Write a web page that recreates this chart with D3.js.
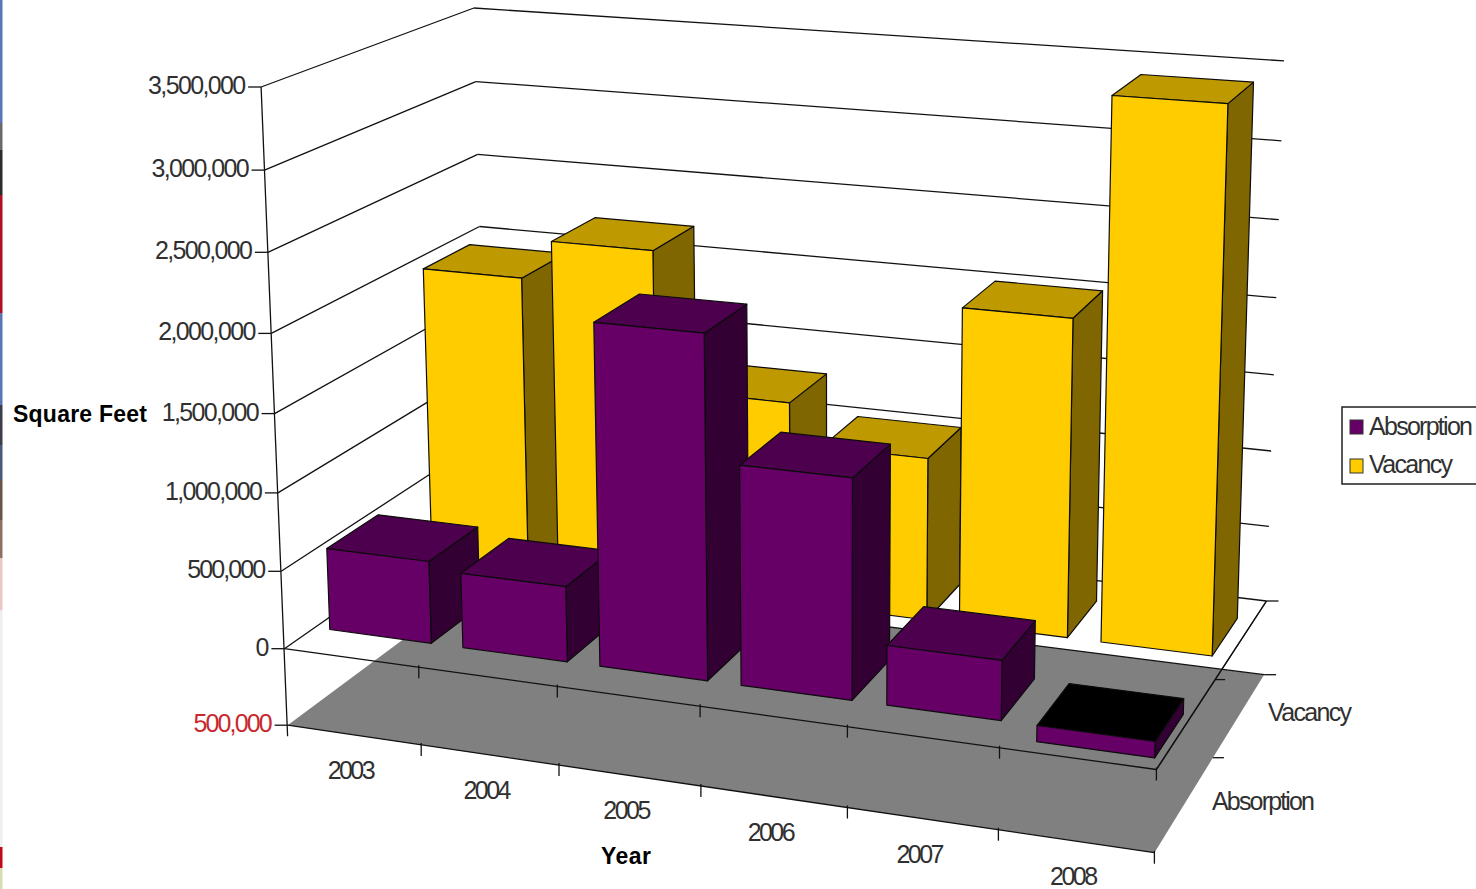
<!DOCTYPE html>
<html>
<head>
<meta charset="utf-8">
<script src="https://cdn.jsdelivr.net/npm/d3@7"></script>
<style>
  html, body { margin: 0; padding: 0; background: #fff; overflow: hidden; }
  svg { display: block; }
  text { font-family: "Liberation Sans", Arial, sans-serif; fill: #303030; }
</style>
</head>
<body>
<svg id="chart" width="1476" height="889"></svg>
<script>
// Chart data: square feet per year
const years = ["2003", "2004", "2005", "2006", "2007", "2008"];
const seriesNames = ["Absorption", "Vacancy"];
const absorption = [530000, 480000, 2150000, 1370000, 370000, -100000];
const vacancy = [1970000, 2230000, 1325000, 1060000, 2045000, 3430000];
const valueTicks = [-500000, 0, 500000, 1000000, 1500000, 2000000, 2500000, 3000000, 3500000];

// Fill colours for each series: front, top, side
const faceColors = {
  Absorption: { front: "#660066", top: "#4d004d", side: "#330033", legend: "#660066" },
  Vacancy: { front: "#ffcc00", top: "#bf9900", side: "#806600", legend: "#ffcc00" }
};

// Slide background showing through along the left edge
const edgeStops = [0, 123, 150, 195, 313, 405, 445, 480, 520, 558, 610, 847, 868];
const edgeColors = ["#5b76b5", "#6a6a6a", "#2b2b2b", "#b01020", "#5b76b5", "#3a3f4a", "#4a5a7a", "#6a5548", "#8a7260", "#e8c8c0", "#eeeeee", "#c00818", "#d8dcb0"];

// Camera anchors: world (category, value in millions, depth) to page position
const cameraAnchors = [
  [0, 3.5, 0, 262, 88], [0, 0, 0, 284, 649], [0, -0.5, 0, 287, 724],
  [0, 3.5, 1, 473, 7], [0, -0.5, 1, 490, 576],
  [6, 3.5, 1, 1284, 61], [6, 0, 1, 1266, 602], [6, -0.5, 1, 1263, 676],
  [6, 0, 0, 1156, 769], [6, -0.5, 0, 1155, 853],
  [3, 0, 0, 700, 707], [3, -0.5, 0, 700, 787],
  [6, 0, 0.5, 1217, 678], [6, -0.5, 0.5, 1213, 756]
];

// Least-squares fit of a 3x4 projective camera
function fitCamera(anchors) {
  const n = 11;
  const A = d3.range(n).map(() => new Array(n + 1).fill(0));
  const accumulate = (row, rhs) => {
    for (let i = 0; i < n; i++) {
      for (let j = 0; j < n; j++) A[i][j] += row[i] * row[j];
      A[i][n] += row[i] * rhs;
    }
  };
  anchors.forEach(([X, Y, Z, px, py]) => {
    const u = px / 1000, v = py / 1000;
    accumulate([X, Y, Z, 1, 0, 0, 0, 0, -u * X, -u * Y, -u * Z], u);
    accumulate([0, 0, 0, 0, X, Y, Z, 1, -v * X, -v * Y, -v * Z], v);
  });
  for (let c = 0; c < n; c++) {
    let best = c;
    for (let r = c + 1; r < n; r++) if (Math.abs(A[r][c]) > Math.abs(A[best][c])) best = r;
    [A[c], A[best]] = [A[best], A[c]];
    for (let r = 0; r < n; r++) {
      if (r === c) continue;
      const f = A[r][c] / A[c][c];
      for (let k = c; k <= n; k++) A[r][k] -= f * A[c][k];
    }
  }
  return A.map((row, i) => row[n] / row[i]);
}

const m = fitCamera(cameraAnchors);
function project(X, Y, Z) {
  const w = m[8] * X + m[9] * Y + m[10] * Z + 1;
  return [
    1000 * (m[0] * X + m[1] * Y + m[2] * Z + m[3]) / w,
    1000 * (m[4] * X + m[5] * Y + m[6] * Z + m[7]) / w
  ];
}

// Scales from data to world coordinates
const xBand = d3.scaleBand().domain(years).range([0, 6]).paddingInner(0.235).paddingOuter(0.115);
const xEdge = d3.scalePoint().domain(d3.range(7)).range([0, 6]);
const yWorld = d3.scaleLinear().domain([-500000, 3500000]).range([-0.5, 3.5]);
const zFront = d3.scaleOrdinal().domain(seriesNames).range([0.135, 0.63]);
const rowDepth = 0.24;

const svg = d3.select("#chart");
const pathOf = pts => "M" + pts.map(p => p.map(v => v.toFixed(1)).join(",")).join("L") + "Z";
const lineOf = pts => "M" + pts.map(p => p.map(v => v.toFixed(1)).join(",")).join("L");

function segment(parent, a, b, width = 1.3) {
  parent.append("path").attr("d", lineOf([a, b]))
    .attr("fill", "none").attr("stroke", "#111").attr("stroke-width", width);
}

// Thin strip of the slide background
svg.append("g").selectAll("rect").data(edgeStops).join("rect")
  .attr("x", 0).attr("width", 2.5)
  .attr("y", d => d)
  .attr("height", (d, i) => (i + 1 < edgeStops.length ? edgeStops[i + 1] : 889) - d)
  .attr("fill", (d, i) => edgeColors[i]);

// Floor below the zero plane
const floorV = yWorld(-500000), zeroV = yWorld(0), topV = yWorld(3500000);
svg.append("path")
  .attr("d", pathOf([project(0, floorV, 0), project(6, floorV, 0), project(6, floorV, 1), project(0, floorV, 1)]))
  .attr("fill", "#808080");

// Walls: grid lines on the left and back, value axis at the front
const walls = svg.append("g");
valueTicks.forEach(v => {
  const y = yWorld(v);
  if (v > -500000) segment(walls, project(0, y, 0), project(0, y, 1));
  segment(walls, project(0, y, 1), project(6, y, 1));
  const a = project(0, y, 0);
  segment(walls, [a[0] - 13, a[1]], a);
});
segment(walls, project(0, topV, 0), (() => { const p = project(0, floorV, 0); return [p[0], p[1] + 11]; })());
segment(walls, project(6, zeroV, 1), project(6, zeroV, 0));
segment(walls, project(6, floorV, 1), (() => { const p = project(6, floorV, 1); return [p[0] + 12, p[1]]; })());
segment(walls, project(6, zeroV, 1), (() => { const p = project(6, zeroV, 1); return [p[0] + 12, p[1]]; })());

// One box per value, left to right so nearer faces overlap
function drawBars(name, values) {
  const g = svg.append("g");
  const z0 = zFront(name), z1 = z0 + rowDepth;
  const boxes = values.map((value, i) => ({ value, year: years[i] }));
  boxes.forEach(d => {
    const x0 = xBand(d.year), x1 = x0 + xBand.bandwidth();
    const hi = yWorld(Math.max(d.value, 0)), lo = yWorld(Math.min(d.value, 0));
    const c = faceColors[name];
    const face = (pts, fill) => g.append("path").attr("d", pathOf(pts))
      .attr("fill", fill).attr("stroke", "#0c0c0c").attr("stroke-width", 1.2).attr("stroke-linejoin", "round");
    face([project(x1, lo, z0), project(x1, lo, z1), project(x1, hi, z1), project(x1, hi, z0)], c.side);
    face([project(x0, hi, z0), project(x1, hi, z0), project(x1, hi, z1), project(x0, hi, z1)], d.value < 0 ? "#000" : c.top);
    face([project(x0, lo, z0), project(x1, lo, z0), project(x1, hi, z0), project(x0, hi, z0)], c.front);
  });
}
drawBars("Vacancy", vacancy);

// Zero-plane front edge sits over the floor, ahead of the bars
const axes = svg.append("g");
segment(axes, project(0, zeroV, 0), project(6, zeroV, 0));
segment(axes, project(0, floorV, 0), project(6, floorV, 0));
segment(axes, project(6, zeroV, 0), project(6, zeroV, 1));
segment(axes, project(6, floorV, 0.5), (() => { const p = project(6, floorV, 0.5); return [p[0] + 11, p[1]]; })());
segment(axes, project(6, zeroV, 0.5), (() => { const p = project(6, zeroV, 0.5); return [p[0] + 10, p[1]]; })());
[zeroV, floorV].forEach(y => {
  xEdge.domain().forEach(i => {
    if (i === 0) return;
    const p = project(xEdge(i), y, 0);
    segment(axes, [p[0], p[1] - 2], [p[0], p[1] + 11]);
  });
});

drawBars("Absorption", absorption);

// Value axis labels
const fmt = d3.format(",");
svg.append("g").selectAll("text").data(valueTicks).join("text")
  .attr("x", d => project(0, yWorld(d), 0)[0] - 15)
  .attr("y", d => project(0, yWorld(d), 0)[1] + 7)
  .attr("text-anchor", "end")
  .attr("font-size", 25)
  .attr("textLength", d => { const s = fmt(Math.abs(d)); return s.length === 9 ? 98 : s.length === 7 ? 79 : 13; })
  .attr("lengthAdjust", "spacing")
  .style("fill", d => d < 0 ? "#c8282e" : null)
  .text(d => fmt(Math.abs(d)));

// Category labels along the floor edge
svg.append("g").selectAll("text").data(years).join("text")
  .attr("x", d => project(xBand(d) + xBand.bandwidth() / 2, floorV, 0)[0] - 2)
  .attr("y", d => project(xBand(d) + xBand.bandwidth() / 2, floorV, 0)[1] + 44)
  .attr("text-anchor", "middle")
  .attr("font-size", 25)
  .attr("textLength", 48)
  .attr("lengthAdjust", "spacing")
  .text(d => d);

// Series labels on the depth axis
const seriesLabelSpots = [
  { text: "Absorption", x: 1212, y: 810, len: 103 },
  { text: "Vacancy", x: 1268, y: 721, len: 84 }
];
svg.append("g").selectAll("text").data(seriesLabelSpots).join("text")
  .attr("x", d => d.x).attr("y", d => d.y)
  .attr("font-size", 25).attr("textLength", d => d.len).attr("lengthAdjust", "spacing")
  .text(d => d.text);

// Axis titles
svg.append("text").attr("x", 13).attr("y", 422).attr("font-size", 23).attr("font-weight", "bold")
  .attr("textLength", 134).attr("lengthAdjust", "spacing").style("fill", "#000").text("Square Feet");
svg.append("text").attr("x", 601).attr("y", 864).attr("font-size", 23).attr("font-weight", "bold")
  .attr("textLength", 50).attr("lengthAdjust", "spacing").style("fill", "#000").text("Year");

// Legend, running past the right edge
const legend = svg.append("g");
legend.append("rect").attr("x", 1342).attr("y", 407).attr("width", 150).attr("height", 77)
  .attr("fill", "#fff").attr("stroke", "#111").attr("stroke-width", 1.4);
seriesNames.forEach((name, i) => {
  legend.append("rect").attr("x", 1350).attr("y", 420 + i * 39).attr("width", 13).attr("height", 14)
    .attr("fill", faceColors[name].legend).attr("stroke", "#333");
  legend.append("text").attr("x", 1369).attr("y", 435 + i * 38).attr("font-size", 25)
    .attr("textLength", i === 0 ? 104 : 84).attr("lengthAdjust", "spacing").text(name);
});
</script>
</body>
</html>
